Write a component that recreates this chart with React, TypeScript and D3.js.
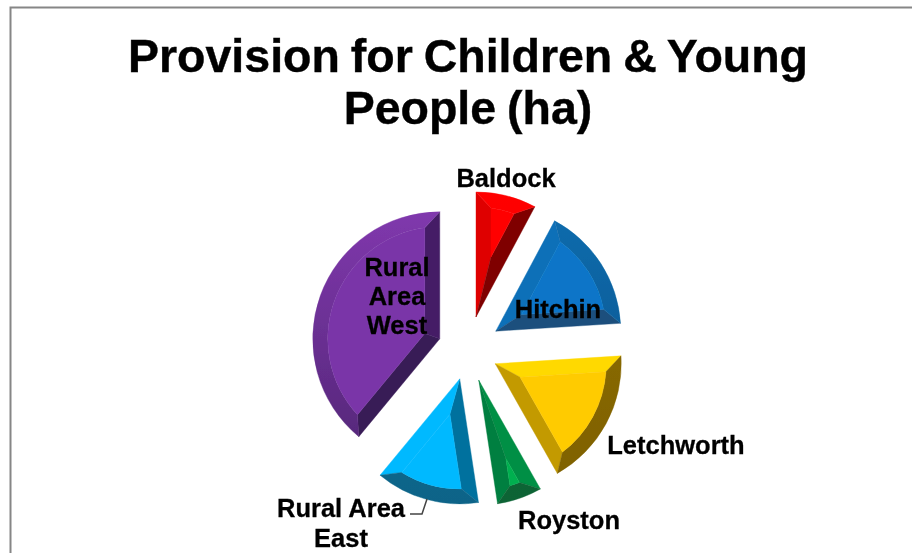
import * as d3 from "d3";

const WIDTH = 912;
const HEIGHT = 553;

const titleLines = ["Provision for Children & Young", "People (ha)"];

// hectares
const categories = ["Baldock", "Hitchin", "Letchworth", "Royston", "Rural Area East", "Rural Area West"];
const values = [3.9, 8.1, 8.9, 2.9, 6.7, 19.5];

// [face, start edge, outer band top, outer band bottom, end edge]
const shades = [
  ["#ff0000", "#df0000", "#ff0000", "#f00000", "#7f0000"],
  ["#0775c8", "#0a6fb8", "#0a6cae", "#04538a", "#1b4f7d"],
  ["#ffcb05", "#ffd900", "#8d6d00", "#7f6100", "#c39a03"],
  ["#00b050", "#008f45", "#0d6a38", "#0d6434", "#007f3f"],
  ["#00b9ff", "#00719e", "#0b6f98", "#0a6488", "#00b9ff"],
  ["#7a35a8", "#391b57", "#8038ad", "#522676", "#441f66"],
];

const labelLines = [["Baldock"], ["Hitchin"], ["Letchworth"], ["Royston"], ["Rural Area", "East"], ["Rural", "Area", "West"]];
const labelAt = [[506, 178], [558, 309], [676, 445], [569, 520], [341, 508], [397, 267]];
const labelLeading = [0, 0, 0, 0, 30, 29];

const cx = 468;
const cy = 349;
const radii = [125, 125, 126, 125, 125, 127];
const explode = [33, 33, 31, 33, 31, 30];
const bevel = 15;

const pie = d3.pie<number>().sort(null).value((d) => d);
const pieces = pie(values);

const polar = (x: number, y: number, r: number, a: number): [number, number] => [
  x + r * Math.sin(a),
  y - r * Math.cos(a),
];

// one exploded slice, cut into its four bevel facets and the flat face
function facets(a0: number, a1: number, i: number) {
  const mid = (a0 + a1) / 2;
  const radius = radii[i];
  const [ax, ay] = polar(cx, cy, explode[i], mid);
  const inR = radius - bevel;
  const inset = Math.asin(bevel / inR);
  const [ix, iy] = polar(ax, ay, bevel / Math.sin((a1 - a0) / 2), mid);
  const t = (a: number) => a - Math.PI / 2;

  const o0 = polar(ax, ay, radius, a0);
  const o1 = polar(ax, ay, radius, a1);
  const i0 = polar(ax, ay, inR, a0 + inset);
  const i1 = polar(ax, ay, inR, a1 - inset);

  const face = d3.path();
  face.moveTo(ix, iy);
  face.lineTo(i0[0], i0[1]);
  face.arc(ax, ay, inR, t(a0 + inset), t(a1 - inset));
  face.closePath();

  const band = d3.path();
  band.moveTo(o0[0], o0[1]);
  band.arc(ax, ay, radius, t(a0), t(a1));
  band.lineTo(i1[0], i1[1]);
  band.arc(ax, ay, inR, t(a1 - inset), t(a0 + inset), true);
  band.closePath();

  const quad = (p: [number, number], q: [number, number]) =>
    `M${ax},${ay}L${p[0]},${p[1]}L${q[0]},${q[1]}L${ix},${iy}Z`;

  return {
    face: face.toString(),
    band: band.toString(),
    start: quad(o0, i0),
    end: quad(o1, i1),
    top: ay - radius,
    bottom: ay + radius,
  };
}

export default function App() {
  return (
    <svg
      width={WIDTH}
      height={HEIGHT}
      style={{ position: "absolute", left: 0, top: 0, background: "#fff" }}
      fontFamily="'Liberation Sans', Arial, sans-serif"
      fontWeight="bold"
    >
      <defs>
        <filter id="soft" x="-5%" y="-5%" width="110%" height="110%">
          <feGaussianBlur stdDeviation="0.45" />
        </filter>
        {pieces.map((p, i) => {
          const f = facets(p.startAngle, p.endAngle, i);
          return (
            <linearGradient
              key={i}
              id={`band${i}`}
              gradientUnits="userSpaceOnUse"
              x1="0"
              x2="0"
              y1={f.top}
              y2={f.bottom}
            >
              <stop offset="0" stopColor={shades[i][2]} />
              <stop offset="1" stopColor={shades[i][3]} />
            </linearGradient>
          );
        })}
      </defs>

      <path d={`M${WIDTH},7.5H10.5V${HEIGHT}`} fill="none" stroke="#868686" strokeWidth={2} />

      <g textAnchor="middle" fontSize={46.5} fill="#000" stroke="#000" strokeWidth={0.4} wordSpacing={-2} filter="url(#soft)">
        {titleLines.map((line, i) => (
          <text key={line} x={468} y={72 + i * 52}>
            {line}
          </text>
        ))}
      </g>

      <g filter="url(#soft)">
        {pieces.map((p, i) => {
          const f = facets(p.startAngle, p.endAngle, i);
          return (
            <g key={categories[i]}>
              <path d={f.start} fill={shades[i][1]} stroke={shades[i][1]} strokeWidth={0.4} />
              <path d={f.end} fill={shades[i][4]} stroke={shades[i][4]} strokeWidth={0.4} />
              <path d={f.band} fill={`url(#band${i})`} stroke={`url(#band${i})`} strokeWidth={0.4} />
              <path d={f.face} fill={shades[i][0]} stroke={shades[i][0]} strokeWidth={0.4} />
            </g>
          );
        })}
      </g>

      <path d="M410,514H422L427,499" fill="none" stroke="#444" strokeWidth={1.5} />

      <g textAnchor="middle" fontSize={25.5} fill="#000" stroke="#000" strokeWidth={0.3} filter="url(#soft)">
        {labelLines.map((lines, i) =>
          lines.map((line, j) => (
            <text key={line + i} x={labelAt[i][0]} y={labelAt[i][1] + 9 + j * labelLeading[i]}>
              {line}
            </text>
          ))
        )}
      </g>
    </svg>
  );
}
